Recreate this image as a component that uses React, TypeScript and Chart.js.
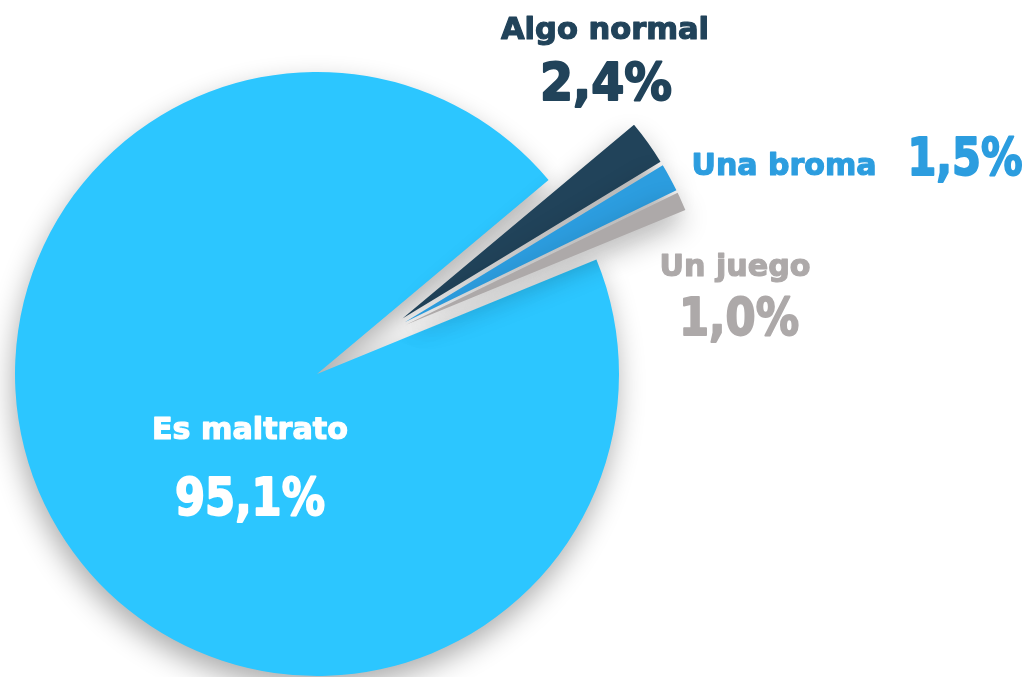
import React, { useEffect, useRef } from "react";
import { Chart, registerables } from "chart.js";

Chart.register(...registerables);

// ---- data ----
const categories = ["Es maltrato", "Algo normal", "Una broma", "Un juego"];
const values = [95.1, 2.4, 1.5, 1.0];
const valueLabels = ["95,1%", "2,4%", "1,5%", "1,0%"];

// ---- styles ----
const sliceColors = ["#2CC6FF", "#21435A", "#2C9DDF", "#ADA9A9"];
const labelColors = ["#FFFFFF", "#21435A", "#2C9DDF", "#ADA9A9"];
const exploded = [false, true, true, true];
const explodeShift = { x: 57, y: -35 };
const SPREAD = 35;
const RADIUS = 302;
const ROTATION = 67.7;
const LABEL_FONT = "bold 31px 'DejaVu Sans', sans-serif";
const VALUE_FONT = "bold 51px 'DejaVu Sans', sans-serif";
// label anchors relative to the pie centre: [name x, name y, value x, value y]
const labelLayout = [
  [-67, 65, -67, 141],
  [288, -335, 289, -274],
  [467, -199, 648, -199],
  [418, -98, 422, -39],
];
const nameMaxWidth = [196, 208, 185, 151];
const valueMaxWidth = [150, 132, 115, 120];

const shadowPlugin = {
  id: "explodedShadow",
  beforeDatasetDraw(chart: any, args: any) {
    const ctx = chart.ctx;
    const meta = args.meta;
    ctx.save();
    ctx.shadowColor = "rgba(0,0,0,0.32)";
    ctx.shadowBlur = 28;
    ctx.shadowOffsetX = -2;
    ctx.shadowOffsetY = 12;
    meta.data.forEach((arc: any, i: number) => {
      ctx.save();
      if (exploded[i]) {
        const mid = (arc.startAngle + arc.endAngle) / 2;
        ctx.translate(
          explodeShift.x + Math.cos(mid) * SPREAD,
          explodeShift.y + Math.sin(mid) * SPREAD
        );
      }
      arc.draw(ctx, chart.chartArea);
      ctx.restore();
    });
    ctx.restore();
    return false;
  },
};

const labelPlugin = {
  id: "sliceLabels",
  afterDatasetsDraw(chart: any) {
    const ctx = chart.ctx;
    const meta = chart.getDatasetMeta(0);
    const cx = meta.data[0].x;
    const cy = meta.data[0].y;
    ctx.save();
    ctx.textAlign = "center";
    ctx.textBaseline = "alphabetic";
    ctx.lineJoin = "round";
    categories.forEach((name, i) => {
      const [nx, ny, vx, vy] = labelLayout[i];
      ctx.fillStyle = labelColors[i];
      ctx.strokeStyle = labelColors[i];
      ctx.font = LABEL_FONT;
      ctx.lineWidth = 1.2;
      ctx.fillText(name, cx + nx, cy + ny, nameMaxWidth[i]);
      ctx.strokeText(name, cx + nx, cy + ny, nameMaxWidth[i]);
      ctx.font = VALUE_FONT;
      ctx.lineWidth = 2;
      ctx.fillText(valueLabels[i], cx + vx, cy + vy, valueMaxWidth[i]);
      ctx.strokeText(valueLabels[i], cx + vx, cy + vy, valueMaxWidth[i]);
    });
    ctx.restore();
  },
};

export default function App() {
  const ref = useRef<HTMLCanvasElement | null>(null);

  useEffect(() => {
    if (!ref.current) return;
    const chart = new Chart(ref.current, {
      type: "pie",
      data: {
        labels: categories,
        datasets: [
          {
            data: values,
            backgroundColor: sliceColors,
            borderWidth: 0,
            clip: false,
          } as any,
        ],
      },
      options: {
        animation: false,
        responsive: false,
        devicePixelRatio: 1,
        rotation: ROTATION,
        radius: RADIUS,
        layout: { padding: { left: 0, right: 396, top: 0, bottom: 0 } },
        plugins: {
          legend: { display: false },
          tooltip: { enabled: false },
        },
        events: [],
      } as any,
      plugins: [shadowPlugin, labelPlugin],
    });
    return () => chart.destroy();
  }, []);

  return (
    <div
      style={{
        position: "fixed",
        left: 0,
        top: 0,
        width: 1030,
        height: 677,
        overflow: "hidden",
        background: "#fff",
      }}
    >
      <canvas ref={ref} width={1030} height={748} style={{ display: "block" }} />
    </div>
  );
}
